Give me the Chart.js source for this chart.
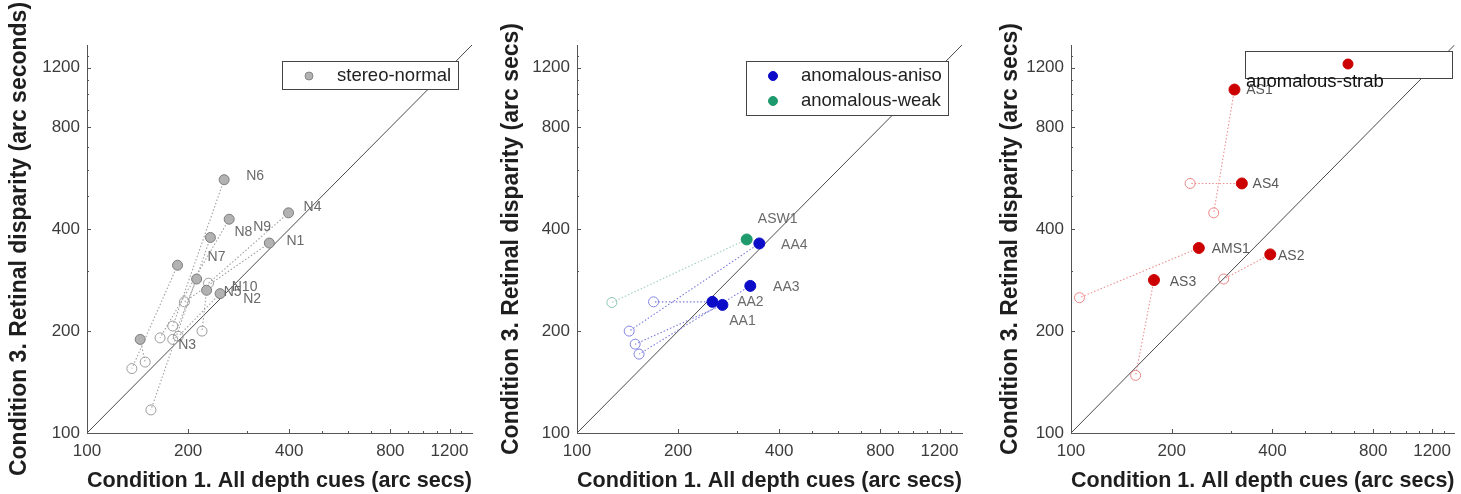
<!DOCTYPE html>
<html><head><meta charset="utf-8">
<script src="https://cdn.jsdelivr.net/npm/chart.js@4.4.1/dist/chart.umd.min.js"></script>
<style>
html,body{margin:0;padding:0;background:#fff;width:1461px;height:494px;overflow:hidden}
.p{position:absolute;top:0;height:494px}
</style></head><body>
<div class="p" style="left:0;width:490px"><canvas id="c1"></canvas></div>
<div class="p" style="left:490px;width:500px"><canvas id="c2"></canvas></div>
<div class="p" style="left:990px;width:471px"><canvas id="c3"></canvas></div>
<script>
// ---------- DATA ----------
const tickValues = [100, 200, 400, 800, 1200];
const minorTickValues = [300, 500, 600, 700, 900, 1000, 1100, 1300];
const axisMin = 100, axisMax = 1400;
const xTitle = 'Condition 1. All depth cues (arc secs)';
const yTitle1 = 'Condition 3. Retinal disparity (arc seconds)';
const yTitle23 = 'Condition 3. Retinal disparity (arc secs)';

// Panel 1: stereo-normal
const normalLabels = ['N1','N2','N3','N4','N5','N6','N7','N8','N9','N10'];
const normalCond1  = [349, 249, 144, 398, 212, 256, 186, 233, 265, 227];
const normalCond3  = [364, 258, 189, 447, 285, 560, 313, 378, 428, 264];
const normalOpenX  = [195, 187, 149, 230, 180, 180, 136, 155, 165, 220];
const normalOpenY  = [244, 193, 162, 277, 189, 207, 155, 117, 191, 200];

// Panel 2: anomalous-aniso / anomalous-weak
const anisoLabels = ['AA1','AA2','AA3','AA4'];
const anisoCond1  = [271, 253, 328, 349];
const anisoCond3  = [239, 244, 272, 363];
const anisoOpenX  = [149, 169, 153, 143];
const anisoOpenY  = [183, 244, 171, 200];
const weakLabels = ['ASW1'];
const weakCond1  = [320];
const weakCond3  = [373];
const weakOpenX  = [127];
const weakOpenY  = [243];

// Panel 3: anomalous-strab
const strabLabels = ['AS1','AS2','AS3','AS4','AMS1'];
const strabCond1  = [308, 394, 177, 324, 241];
const strabCond3  = [1034, 337, 283, 546, 352];
const strabOpenX  = [267, 286, 156, 227, 106];
const strabOpenY  = [447, 285, 148, 546, 251];

// ---------- STYLE ----------
const FONT = "'Liberation Sans', Arial, Helvetica, sans-serif";
const labelShift = {
  N1:[26,-2], N2:[32,5], N3:[47,6], N4:[24,-6], N5:[36,13], N6:[31,-4], N7:[39,-8], N8:[33,-5], N9:[33,8], N10:[38,-3],
  AA1:[20,16], AA2:[38,0], AA3:[36,1], AA4:[35,2], ASW1:[31,-20],
  AS1:[25,1], AS2:[21,2], AS3:[29,2], AS4:[24,1], AMS1:[32,1]
};

function pts(xs, ys){ return xs.map((v,i)=>({x:v, y:ys[i]})); }

function filledSet(xs, ys, fill, border, r){
  return {type:'scatter', data:pts(xs,ys), pointRadius:r, pointHoverRadius:r,
    pointBackgroundColor:fill, pointBorderColor:border, pointBorderWidth:1, order:0};
}
function openSet(xs, ys, border, r){
  return {type:'scatter', data:pts(xs,ys), pointRadius:r, pointHoverRadius:r,
    pointBackgroundColor:'rgba(255,255,255,0)', pointBorderColor:border, pointBorderWidth:1, order:1};
}
function connectors(x1, y1, x2, y2, color){
  return x1.map((v,i)=>({type:'scatter', showLine:true, data:[{x:v,y:y1[i]},{x:x2[i],y:y2[i]}],
    borderColor:color, borderWidth:1.1, borderDash:[1.5,2], pointRadius:0, order:2}));
}
function diagonal(){
  return {type:'scatter', showLine:true, data:[{x:axisMin,y:axisMin},{x:axisMax,y:axisMax}],
    borderColor:'#4a4a4a', borderWidth:1, pointRadius:0, order:3};
}

function axis(pos, title, titlePad, sizeFix){
  return {
    type:'logarithmic', position:pos, min:axisMin, max:axisMax,
    afterBuildTicks: s => { s.ticks = tickValues.map(v=>({value:v})); },
    ticks:{autoSkip:false, maxRotation:0, minRotation:0, color:'#3c3c3c',
      font:{family:FONT, size:17}, padding: pos==='bottom'?8:7,
      callback: v => String(v)},
    grid:{display:true, drawOnChartArea:false, drawTicks:false},
    border:{display:true, color:'#555', width:1},
    title:{display:true, text:title, color:'#1e1e1e',
      font:{family:FONT, size: pos==='bottom'?22:23, weight:'bold'}, padding:titlePad},
    afterFit: sizeFix
  };
}

const innerTicks = {
  id:'innerTicks',
  afterDraw(chart){
    const {ctx, chartArea:a, scales:{x, y}} = chart;
    ctx.save(); ctx.strokeStyle='#555'; ctx.lineWidth=1;
    const draw = (vals, len) => {
      vals.forEach(v=>{
        const px = Math.round(x.getPixelForValue(v))+0.5;
        const py = Math.round(y.getPixelForValue(v))+0.5;
        ctx.beginPath(); ctx.moveTo(px, a.bottom); ctx.lineTo(px, a.bottom-len); ctx.stroke();
        ctx.beginPath(); ctx.moveTo(a.left, py); ctx.lineTo(a.left+len, py); ctx.stroke();
      });
    };
    draw(tickValues, 4); draw(minorTickValues, 2);
    ctx.restore();
  }
};

const pointNames = {
  id:'pointNames',
  afterDatasetsDraw(chart, args, opts){
    const ctx = chart.ctx;
    ctx.save();
    ctx.font = '14px ' + FONT;
    ctx.textAlign = 'center'; ctx.textBaseline = 'middle';
    (opts.sets||[]).forEach(s=>{
      const meta = chart.getDatasetMeta(s.dataset);
      ctx.fillStyle = s.color;
      s.labels.forEach((t,i)=>{
        const el = meta.data[i]; if(!el) return;
        const sh = labelShift[t] || [25,0];
        ctx.fillText(t, el.x + sh[0], el.y + sh[1]);
      });
    });
    ctx.restore();
  }
};

const boxLegend = {
  id:'boxLegend',
  afterDraw(chart, args, opts){
    if(!opts.box) return;
    const ctx = chart.ctx; const b = opts.box;
    ctx.save();
    ctx.fillStyle='#fff'; ctx.fillRect(b[0], b[1], b[2]-b[0], b[3]-b[1]);
    ctx.strokeStyle='#444'; ctx.lineWidth=1;
    ctx.strokeRect(b[0]+0.5, b[1]+0.5, b[2]-b[0], b[3]-b[1]);
    opts.items.forEach(it=>{
      ctx.beginPath(); ctx.arc(it.mx, it.my, it.r, 0, Math.PI*2);
      ctx.fillStyle = it.fill; ctx.fill();
      ctx.strokeStyle = it.border; ctx.stroke();
      ctx.font = (it.size||18.5) + 'px ' + FONT;
      ctx.fillStyle = it.textColor || '#222';
      ctx.textAlign='left'; ctx.textBaseline='middle';
      ctx.fillText(it.text, it.tx, it.ty);
    });
    ctx.restore();
  }
};

function makeChart(id, datasets, yTitle, yTitlePad, yWidth, rightPad, names, legend){
  return new Chart(document.getElementById(id), {
    type:'scatter',
    data:{datasets},
    options:{
      responsive:true, maintainAspectRatio:false, animation:false,
      layout:{padding:{left:0, right:rightPad, top:45, bottom:0}},
      scales:{
        x: axis('bottom', xTitle, {top:0, bottom:0}, s=>{ s.height = 61; }),
        y: axis('left', yTitle, {top:yTitlePad, bottom:0}, s=>{ s.width = yWidth; })
      },
      plugins:{legend:{display:false}, tooltip:{enabled:false},
        pointNames:{sets:names}, boxLegend:legend}
    },
    plugins:[innerTicks, pointNames, boxLegend]
  });
}

// Panel 1
makeChart('c1', [
  filledSet(normalCond1, normalCond3, '#b2b2b2', '#7c7c7c', 5),
  openSet(normalOpenX, normalOpenY, '#9c9c9c', 5),
  ...connectors(normalCond1, normalCond3, normalOpenX, normalOpenY, '#a0a0a0'),
  diagonal()
], yTitle1, 6, 87, 18,
[{dataset:0, labels:normalLabels, color:'#6a6a6a'}],
{box:[282,61,458,89], items:[{mx:309,my:76,r:4,fill:'#b2b2b2',border:'#888',text:'stereo-normal',tx:337,ty:76}]});

// Panel 2
makeChart('c2', [
  filledSet(anisoCond1, anisoCond3, '#0c0cc8', '#0c0cc8', 5.5),
  filledSet(weakCond1, weakCond3, '#1f9a6c', '#1f9a6c', 5.5),
  openSet(anisoOpenX, anisoOpenY, '#8585e4', 5),
  openSet(weakOpenX, weakOpenY, '#8cc6ae', 5),
  ...connectors(anisoCond1, anisoCond3, anisoOpenX, anisoOpenY, '#7c7cdc'),
  ...connectors(weakCond1, weakCond3, weakOpenX, weakOpenY, '#a0d0bb'),
  diagonal()
], yTitle23, 8, 87, 28,
[{dataset:0, labels:anisoLabels, color:'#6a6a6a'},{dataset:1, labels:weakLabels, color:'#6a6a6a'}],
{box:[256,61,458,115], items:[
  {mx:283,my:76,r:4.5,fill:'#0c0cc8',border:'#0c0cc8',text:'anomalous-aniso',tx:311,ty:76},
  {mx:283,my:101,r:4.5,fill:'#1f9a6c',border:'#1f9a6c',text:'anomalous-weak',tx:311,ty:101}]});

// Panel 3
makeChart('c3', [
  filledSet(strabCond1, strabCond3, '#cc0000', '#cc0000', 5.5),
  openSet(strabOpenX, strabOpenY, '#ec8484', 5),
  ...connectors(strabCond1, strabCond3, strabOpenX, strabOpenY, '#ee9090'),
  diagonal()
], yTitle23, 7, 81, 5,
[{dataset:0, labels:strabLabels, color:'#5a5a5a'}],
{box:[255,51,462,78], items:[{mx:358,my:64,r:5,fill:'#cc0000',border:'#cc0000',text:'anomalous-strab',tx:256,ty:82,textColor:'#111'}]});
</script>
</body></html>
